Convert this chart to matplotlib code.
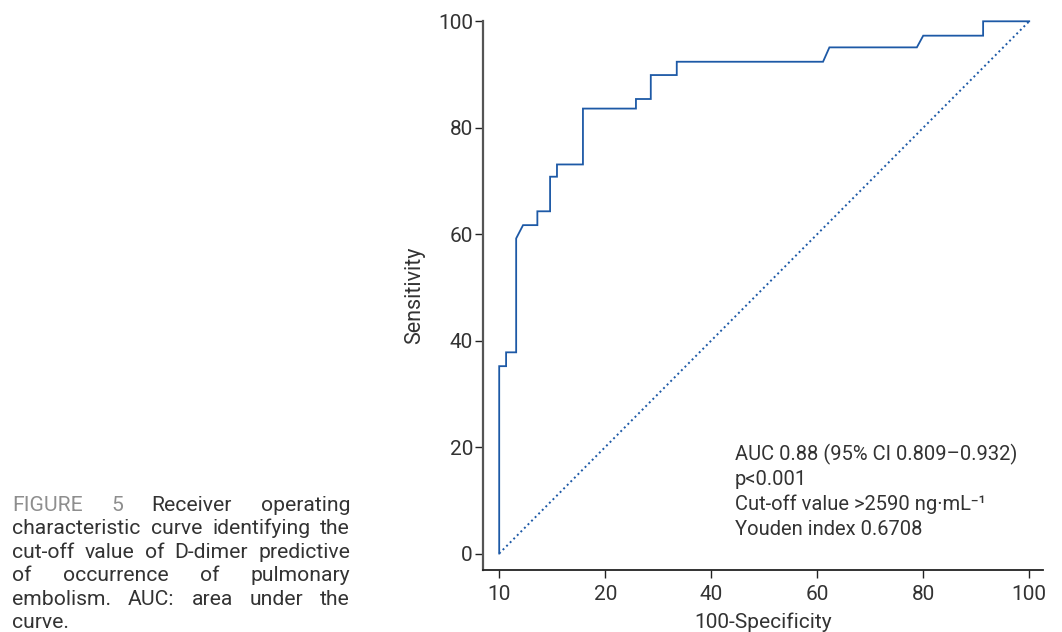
import matplotlib
matplotlib.use("Agg")
import matplotlib.pyplot as plt

plt.rcParams['font.family'] = ['Roboto', 'DejaVu Sans']

# ROC curve vertices (100-Specificity, Sensitivity)
fpr = [0, 0, 1.3, 1.3, 3.2, 3.2, 4.5, 7.2, 7.2, 9.6, 9.6, 10.9, 10.9, 15.8, 15.8,
       25.8, 25.8, 28.6, 28.6, 33.5, 33.5, 61.1, 62.3, 78.8, 80.0, 91.3, 91.3, 100]
tpr = [0, 35.2, 35.2, 37.8, 37.8, 59.2, 61.7, 61.7, 64.3, 64.3, 70.8, 70.8, 73.1, 73.1, 83.6,
       83.6, 85.4, 85.4, 89.9, 89.9, 92.4, 92.4, 95.1, 95.1, 97.3, 97.3, 100, 100]
ref_x = [0, 100]
ref_y = [0, 100]
xticks = [0, 20, 40, 60, 80, 100]
xtick_labels = ["10", "20", "40", "60", "80", "100"]
yticks = [0, 20, 40, 60, 80, 100]
annotation = ["AUC 0.88 (95% CI 0.809\u20130.932)", "p<0.001",
              "Cut-off value >2590 ng\u00b7mL\u207b\u00b9", "Youden index 0.6708"]
caption_lines = ["FIGURE 5 Receiver operating",
                 "characteristic curve identifying the",
                 "cut-off value of D-dimer predictive",
                 "of occurrence of pulmonary",
                 "embolism. AUC: area under the",
                 "curve."]

W, H = 1062, 632
fig = plt.figure(figsize=(W / 100, H / 100), dpi=100)
ax = fig.add_axes([483.3 / W, 1 - 570 / H, (1043 - 483.3) / W, (570 - 21.3) / H])

blue = '#1d59a6'
ax.plot(fpr, tpr, color=blue, lw=1.3, clip_on=False, solid_joinstyle='miter')
ax.plot(ref_x, ref_y, color=blue, lw=1.4, ls=(0, (1, 1.6)), clip_on=False)

ax.set_xlim(-3.0, 102.6)
ax.set_ylim(-3.1, 100)
ax.set_xticks(xticks)
ax.set_xticklabels(xtick_labels)
ax.set_yticks(yticks)

for s in ['top', 'right']:
    ax.spines[s].set_visible(False)
ax.spines['left'].set_color('#555555')
ax.spines['left'].set_linewidth(1.6)
ax.spines['bottom'].set_color('#222222')
ax.spines['bottom'].set_linewidth(1.3)
ax.tick_params(axis='both', direction='out', length=6, width=1.0, colors='#222222',
               labelsize=15, labelcolor='#333333')
ax.tick_params(axis='y', pad=1.5)
ax.tick_params(axis='x', pad=5)

ax.set_xlabel("100-Specificity", fontsize=15, color='#333333', labelpad=6)
ax.set_ylabel("Sensitivity", fontsize=15.5, color='#333333', labelpad=9)

for i, line in enumerate(annotation):
    fig.text(735 / W, 1 - (460 + i * 25) / H, line, fontsize=14.5, color='#333333',
             ha='left', va='baseline')

# justified caption
fig.canvas.draw()
renderer = fig.canvas.get_renderer()
left_px, right_px = 12, 350
base0, step = 510.7, 23.5
gray = '#8e8e8e'
dark = '#333333'
for li, line in enumerate(caption_lines):
    words = line.split(' ')
    y = 1 - (base0 + li * step) / H
    texts = []
    widths = []
    for wi, w in enumerate(words):
        col = gray if (li == 0 and wi < 2) else dark
        t = fig.text(0, y, w, fontsize=15.2, color=col, ha='left', va='baseline')
        texts.append(t)
        widths.append(t.get_window_extent(renderer).width)
    if li == len(caption_lines) - 1 or len(words) == 1:
        xpos = left_px
        for t, wd in zip(texts, widths):
            t.set_x(xpos / W)
            xpos += wd + 5
    else:
        gap = (right_px - left_px - sum(widths)) / (len(words) - 1)
        xpos = left_px
        for t, wd in zip(texts, widths):
            t.set_x(xpos / W)
            xpos += wd + gap

fig.savefig("out.png", dpi=100)
